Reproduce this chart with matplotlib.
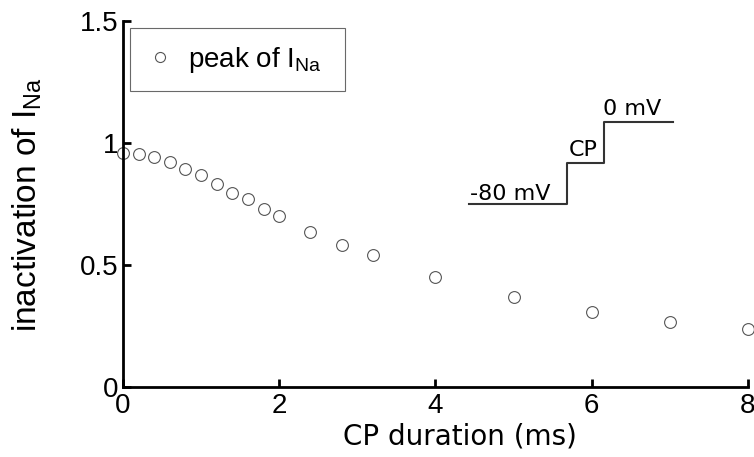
import matplotlib
matplotlib.use("Agg")
import matplotlib.pyplot as plt

# data
cp_duration = [0, 0.2, 0.4, 0.6, 0.8, 1.0, 1.2, 1.4, 1.6, 1.8, 2.0,
               2.4, 2.8, 3.2, 4, 5, 6, 7, 8]
inactivation = [0.958, 0.954, 0.944, 0.922, 0.894, 0.869, 0.834, 0.797,
                0.771, 0.731, 0.702, 0.637, 0.582, 0.540, 0.450, 0.371,
                0.309, 0.268, 0.237]
xticks = [0, 2, 4, 6, 8]
yticks = [0, 0.5, 1, 1.5]
yticklabels = ["0", "0.5", "1", "1.5"]

# protocol schematic (axes-fraction coordinates)
proto_x = [0.553, 0.710, 0.710, 0.770, 0.770, 0.880]
proto_y = [0.500, 0.500, 0.612, 0.612, 0.724, 0.724]

plt.rcParams['mathtext.fontset'] = 'custom'
plt.rcParams['mathtext.rm'] = 'Liberation Sans'

fig = plt.figure(figsize=(7.54, 4.57), dpi=100)
ax = fig.add_axes([0.163, 0.153, 0.829, 0.801])

ax.plot(cp_duration, inactivation, linestyle='none', marker='o',
        markersize=8.5, markerfacecolor='none', markeredgecolor='#555555',
        markeredgewidth=0.8, label=r'peak of I$_{\mathrm{Na}}$', clip_on=False)

ax.set_xlim(0, 8)
ax.set_ylim(0, 1.5)
ax.set_xticks(xticks)
ax.set_xticklabels([str(t) for t in xticks])
ax.set_yticks(yticks)
ax.set_yticklabels(yticklabels)
for s in ['top', 'right']:
    ax.spines[s].set_visible(False)
for s in ['left', 'bottom']:
    ax.spines[s].set_linewidth(2)
ax.tick_params(direction='in', length=6, width=2, labelsize=20)
ax.tick_params(axis='y', pad=3)
ax.tick_params(axis='x', pad=4)
for lab in ax.get_xticklabels() + ax.get_yticklabels():
    lab.set_family('Liberation Sans')

ax.set_xlabel('CP duration (ms)', fontsize=20, family='DejaVu Sans')
ax.xaxis.set_label_coords(0.539, -0.098)
ax.set_ylabel(r'inactivation of I$_{\mathrm{Na}}$', fontsize=24,
              family='Liberation Sans', labelpad=26)

leg = ax.legend(loc='upper left', bbox_to_anchor=(0.011, 0.981, 0.344, 0.0),
                mode='expand', prop={'family': 'Liberation Sans', 'size': 20},
                markerscale=0.85, frameon=True, fancybox=False, borderpad=0.6,
                handlelength=1.0, handletextpad=0.5, borderaxespad=0)
leg.get_frame().set_edgecolor('#444444')
leg.get_frame().set_linewidth(0.8)

ax.plot(proto_x, proto_y, color='#333333', linewidth=1.5, transform=ax.transAxes,
        clip_on=False)
ax.text(0.555, 0.512, '-80 mV', transform=ax.transAxes, fontsize=16,
        family='DejaVu Sans', ha='left', va='baseline')
ax.text(0.759, 0.630, 'CP', transform=ax.transAxes, fontsize=16,
        family='DejaVu Sans', ha='right', va='baseline')
ax.text(0.768, 0.742, '0 mV', transform=ax.transAxes, fontsize=16,
        family='DejaVu Sans', ha='left', va='baseline')

fig.savefig('out.png', dpi=100)
